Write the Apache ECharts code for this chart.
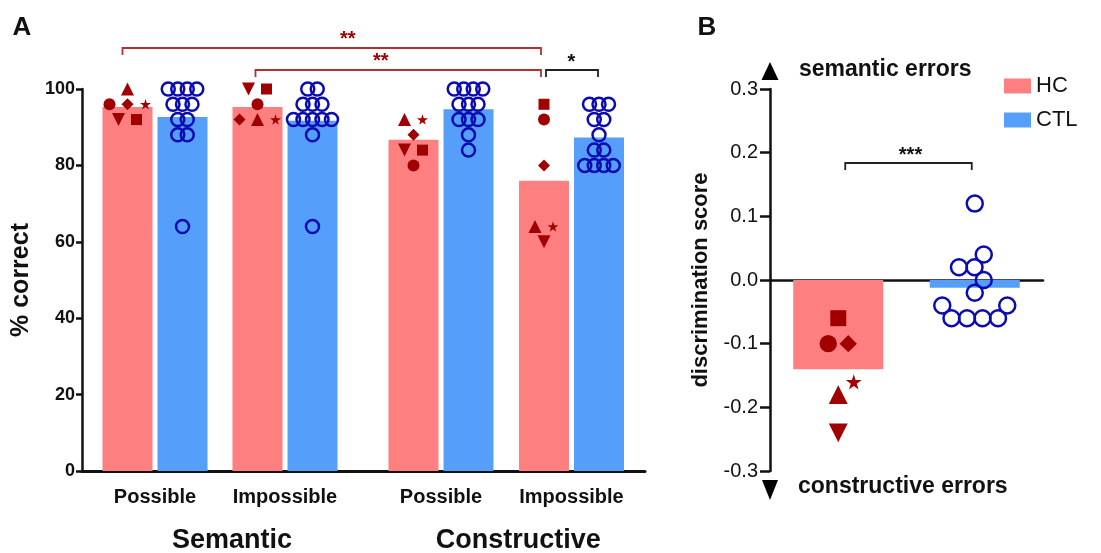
<!DOCTYPE html>
<html>
<head>
<meta charset="utf-8">
<script src="https://cdn.jsdelivr.net/npm/echarts@6/dist/echarts.min.js"></script>
<style>
  html, body { margin: 0; padding: 0; background: #fff; }
  #main { width: 1101px; height: 553px; }
</style>
</head>
<body>
<div id="main"></div>
<script>
// ---- data ----
const conditions = ['Possible', 'Impossible', 'Possible', 'Impossible']
const tasks = ['Semantic', 'Constructive']
const groups = ['HC', 'CTL']

// panel A: % correct, bar = group mean
const hcMean = [95.3, 95.3, 86.7, 76.0]
const ctlMean = [92.7, 91.7, 94.7, 87.3]

// HC subjects, one symbol each (same order in every array)
const hcShapes = ['circle', 'diamond', 'triangle', 'star', 'invtriangle', 'square']
const hcSemPossible = [96, 96, 100, 96, 92, 92]
const hcSemImpossible = [96, 92, 92, 92, 100, 100]
const hcConPossible = [80, 88, 92, 92, 84, 84]
const hcConImpossible = [92, 80, 64, 64, 60, 96]

// CTL subjects
const ctlSemPossible = [100, 100, 100, 100, 96, 96, 96, 92, 92, 88, 88, 64]
const ctlSemImpossible = [100, 100, 96, 96, 96, 92, 92, 92, 92, 92, 88, 64]
const ctlConPossible = [100, 100, 100, 100, 96, 96, 96, 92, 92, 92, 88, 84]
const ctlConImpossible = [96, 96, 96, 92, 92, 88, 84, 84, 80, 80, 80, 80]

// panel B: discrimination score
const hcScoreMean = -0.14
const ctlScoreMean = -0.012
const hcScore = [-0.10, -0.10, -0.18, -0.16, -0.24, -0.06]
const ctlScore = [0.12, 0.04, 0.02, 0.02, 0, -0.02, -0.04, -0.04, -0.06, -0.06, -0.06, -0.06]

const yTicksA = [0, 20, 40, 60, 80, 100]
const yTicksB = [-0.3, -0.2, -0.1, 0, 0.1, 0.2, 0.3]

// ---- layout ----
const font = '"Liberation Sans", Arial, Helvetica, sans-serif'
const pink = '#fe7f80'
const blue = '#559ffa'
const darkRed = '#a00000'
const darkBlue = '#0b0bb2'
const gridA = { left: 82, top: 89, width: 563, height: 382 }
const gridB = { left: 770, top: 89, width: 273, height: 382 }
const condCenters = [73, 203, 359, 489.5] // x units of panel A (1 unit = 1px)
const pairHalf = 27.5
const unitB = gridB.width / 2

const starPath = 'path://M50,0 L61,35 L98,35 L68,57 L79,91 L50,70 L21,91 L32,57 L2,35 L39,35 Z'

function shapeOf(name, big) {
  const k = big ? 1.45 : 1
  switch (name) {
    case 'star': return { symbol: starPath, symbolSize: 11 * k }
    case 'invtriangle': return { symbol: 'triangle', symbolSize: 13 * k, symbolRotate: 180 }
    case 'square': return { symbol: 'rect', symbolSize: 11 * k }
    case 'triangle': return { symbol: 'triangle', symbolSize: 13 * k }
    default: return { symbol: name, symbolSize: 12 * k }
  }
}

// dot-plot layout: rows of equal values are centred if they fit,
// otherwise the points are pushed out one by one (bottom row first)
function swarm(values, pxPerUnit, spacing, minDist) {
  const rows = {}
  values.forEach((v, i) => { (rows[v] = rows[v] || []).push(i) })
  const keys = Object.keys(rows).map(Number).sort((a, b) => a - b)
  const placed = []
  const off = new Array(values.length)
  const free = (x, y) => placed.every(p => Math.hypot(p[0] - x, p[1] - y) >= minDist - 0.01)
  let side = 1
  keys.forEach(k => {
    const members = rows[k]
    const n = members.length
    const y = k * pxPerUnit
    let c = null
    for (let step = 0; step <= 2 * Math.ceil(spacing / 2); step++) {
      const t = step === 0 ? 0 : (step % 2 ? 1 : -1) * Math.ceil(step / 2)
      const xs = members.map((m, i) => t + (i - (n - 1) / 2) * spacing)
      if (xs.every(x => free(x, y))) { c = t; break }
    }
    if (c !== null) {
      members.forEach((m, i) => {
        off[m] = c + (i - (n - 1) / 2) * spacing
        placed.push([off[m], y])
      })
      return
    }
    members.forEach(m => {
      let best = null
      for (let d = 0; d < 200; d += 0.5) {
        const cands = d === 0 ? [0] : [side * d, -side * d]
        const hit = cands.find(x => free(x, y))
        if (hit !== undefined) { best = hit; break }
      }
      if (best !== 0) side = best > 0 ? -1 : 1
      off[m] = best
      placed.push([best, y])
    })
  })
  return off
}

const pxPerA = gridA.height / 100
const pxPerB = gridB.height / 0.6

const hcA = [hcSemPossible, hcSemImpossible, hcConPossible, hcConImpossible]
const ctlA = [ctlSemPossible, ctlSemImpossible, ctlConPossible, ctlConImpossible]

const hcPointsA = []
hcA.forEach((vals, c) => {
  const off = swarm(vals, pxPerA, 18, 12)
  vals.forEach((v, i) => {
    hcPointsA.push(Object.assign({ value: [condCenters[c] - pairHalf + off[i], v] }, shapeOf(hcShapes[i], false)))
  })
})
const ctlPointsA = []
ctlA.forEach((vals, c) => {
  const off = swarm(vals, pxPerA, 9.5, 9)
  vals.forEach((v, i) => { ctlPointsA.push([condCenters[c] + pairHalf + off[i], v]) })
})

const hcOffB = swarm(hcScore, pxPerB, 20, 20)
const hcPointsB = hcScore.map((v, i) =>
  Object.assign({ value: [0.5 + hcOffB[i] / unitB, v] }, shapeOf(hcShapes[i], true)))
const ctlOffB = swarm(ctlScore, pxPerB, 15.5, 15.5)
const ctlPointsB = ctlScore.map((v, i) => [1.5 + ctlOffB[i] / unitB, v])

const hiddenX = {
  type: 'value',
  axisLabel: { show: false },
  axisTick: { show: false },
  splitLine: { show: false },
  axisLine: { show: true, lineStyle: { color: '#111', width: 3 } }
}

const chart = echarts.init(document.getElementById('main'))
chart.setOption({
  animation: false,
  backgroundColor: '#fff',
  textStyle: { fontFamily: font },
  grid: [gridA, gridB],
  legend: {
    data: groups,
    orient: 'vertical',
    left: 1004,
    top: 75,
    padding: 0,
    itemWidth: 27,
    itemHeight: 15,
    itemGap: 12,
    icon: 'rect',
    selectedMode: false,
    textStyle: { fontSize: 22, color: '#111', fontFamily: font }
  },
  xAxis: [
    Object.assign({}, hiddenX, { gridIndex: 0, min: 0, max: gridA.width }),
    Object.assign({}, hiddenX, { gridIndex: 1, min: 0, max: 2, axisLine: { show: true, onZero: true, lineStyle: { color: '#111', width: 2.5 } } })
  ],
  yAxis: [
    {
      gridIndex: 0,
      type: 'value',
      min: yTicksA[0],
      max: yTicksA[yTicksA.length - 1],
      interval: 20,
      axisLine: { show: true, lineStyle: { color: '#111', width: 2.5 } },
      axisTick: { show: true, length: 6, lineStyle: { color: '#111', width: 2.5 } },
      axisLabel: { fontSize: 18, fontWeight: 'bold', color: '#111', margin: 7, fontFamily: font },
      splitLine: { show: false },
      name: '% correct',
      nameLocation: 'middle',
      nameGap: 37,
      nameTextStyle: { fontSize: 25, fontWeight: 'bold', color: '#111', fontFamily: font }
    },
    {
      gridIndex: 1,
      type: 'value',
      min: yTicksB[0],
      max: yTicksB[yTicksB.length - 1],
      interval: 0.1,
      axisLine: { show: true, lineStyle: { color: '#111', width: 2.5 } },
      axisTick: { show: true, length: 10, lineStyle: { color: '#111', width: 2.5 } },
      axisLabel: {
        fontSize: 20,
        color: '#111',
        margin: 12,
        fontFamily: font,
        formatter: v => (Math.abs(v) < 1e-9 ? '0.0' : v.toFixed(1))
      },
      splitLine: { show: false },
      name: 'discrimination score',
      nameLocation: 'middle',
      nameGap: 58,
      nameTextStyle: { fontSize: 22, fontWeight: 'bold', color: '#111', fontFamily: font }
    }
  ],
  series: [
    {
      name: 'HC', type: 'bar', xAxisIndex: 0, yAxisIndex: 0, barWidth: 50, barGap: '-100%',
      itemStyle: { color: pink },
      data: hcMean.map((v, i) => [condCenters[i] - pairHalf, v])
    },
    {
      name: 'CTL', type: 'bar', xAxisIndex: 0, yAxisIndex: 0, barWidth: 50, barGap: '-100%',
      itemStyle: { color: blue },
      data: ctlMean.map((v, i) => [condCenters[i] + pairHalf, v])
    },
    {
      name: 'HC', type: 'bar', xAxisIndex: 1, yAxisIndex: 1, barWidth: 90, barGap: '-100%',
      itemStyle: { color: pink },
      data: [[0.5, hcScoreMean]]
    },
    {
      name: 'CTL', type: 'bar', xAxisIndex: 1, yAxisIndex: 1, barWidth: 90, barGap: '-100%',
      itemStyle: { color: blue },
      data: [[1.5, ctlScoreMean]]
    },
    {
      name: 'HC subjects', type: 'scatter', xAxisIndex: 0, yAxisIndex: 0, symbolKeepAspect: true,
      itemStyle: { color: darkRed, opacity: 1 },
      data: hcPointsA
    },
    {
      name: 'CTL subjects', type: 'scatter', xAxisIndex: 0, yAxisIndex: 0,
      symbol: 'circle', symbolSize: 13,
      itemStyle: { color: 'rgba(0,0,0,0)', borderColor: darkBlue, borderWidth: 2.5, opacity: 1 },
      data: ctlPointsA
    },
    {
      name: 'HC scores', type: 'scatter', xAxisIndex: 1, yAxisIndex: 1, symbolKeepAspect: true,
      itemStyle: { color: darkRed, opacity: 1 },
      data: hcPointsB
    },
    {
      name: 'CTL scores', type: 'scatter', xAxisIndex: 1, yAxisIndex: 1,
      symbol: 'circle', symbolSize: 16,
      itemStyle: { color: 'rgba(0,0,0,0)', borderColor: darkBlue, borderWidth: 2.5, opacity: 1 },
      data: ctlPointsB
    }
  ]
})

// ---- annotations placed from the axes ----
const toPx = (g, x, y) => chart.convertToPixel({ xAxisIndex: g, yAxisIndex: g }, [x, y])
const hcX = condCenters.map(c => toPx(0, c - pairHalf, 0)[0])
const ctlX = condCenters.map(c => toPx(0, c + pairHalf, 0)[0])
const condX = condCenters.map(c => toPx(0, c, 0)[0])
const axisBx = toPx(1, 0, 0)[0]
const hcBx = toPx(1, 0.5, 0)[0]
const ctlBx = toPx(1, 1.5, 0)[0]

function label(text, x, y, size, opts) {
  return {
    type: 'text', x: x, y: y, silent: true,
    style: Object.assign({
      text: text, fontSize: size, fontWeight: 'bold', fontFamily: font,
      fill: '#111', align: 'center', verticalAlign: 'middle'
    }, opts || {})
  }
}
function bracket(x1, x2, y, color) {
  return {
    type: 'polyline', silent: true,
    shape: { points: [[x1, y + 7], [x1, y], [x2, y], [x2, y + 7]] },
    style: { stroke: color, lineWidth: 1.8, fill: null }
  }
}

const redLine = '#b3302f'
const g = [
  label('A', 22, 28, 26),
  label('B', 707, 28, 26),
  label(tasks[0], (condX[0] + condX[1]) / 2 + 12, 541, 27),
  label(tasks[1], (condX[2] + condX[3]) / 2 + 12, 541, 27),
  bracket(hcX[0] - 5, hcX[3] - 3, 48, redLine),
  label('**', (hcX[0] + hcX[3]) / 2 + 12, 39, 20, { fill: darkRed }),
  bracket(hcX[1] - 2, hcX[3] - 3, 70, redLine),
  label('**', (hcX[1] + hcX[3]) / 2 - 20, 61, 20, { fill: darkRed }),
  bracket(hcX[3] + 2, ctlX[3] - 1, 70, '#222'),
  label('*', (hcX[3] + ctlX[3]) / 2, 62, 20),
  bracket(hcBx + 7, ctlBx - 3, 163, '#222'),
  label('***', (hcBx + ctlBx) / 2 + 4, 155, 20),
  {
    type: 'polygon', silent: true,
    shape: { points: [[axisBx - 8.5, 80], [axisBx + 8.5, 80], [axisBx, 62]] },
    style: { fill: '#000' }
  },
  {
    type: 'polygon', silent: true,
    shape: { points: [[axisBx - 8, 480], [axisBx + 8, 480], [axisBx, 500]] },
    style: { fill: '#000' }
  },
  label('semantic errors', 799, 70, 23, { align: 'left' }),
  label('constructive errors', 798, 487, 23, { align: 'left' })
]
conditions.forEach((c, i) => { g.push(label(c, condX[i], 497, 20)) })
chart.setOption({ graphic: g })
</script>
</body>
</html>
